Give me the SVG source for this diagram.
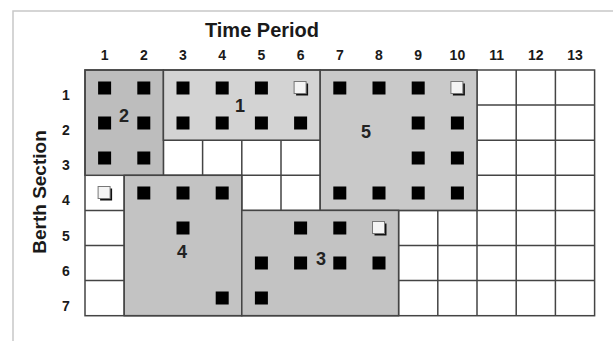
<svg xmlns="http://www.w3.org/2000/svg" width="613" height="341" viewBox="0 0 613 341">
<style>
text{font-family:"Liberation Sans",Arial,sans-serif;font-weight:bold;fill:#1a1a1a;text-anchor:middle}
.hd{font-size:14px}
.rl{font-size:14px}
.tl{font-size:20px}
.lb{font-size:18px;fill:#222}
.g{stroke:#444;stroke-width:1.5;fill:none}
.reg{stroke:#444;stroke-width:1.5}
.frame{stroke:#c8c8c8;stroke-width:1.5;fill:none}
</style>
<defs>
<g id="hol">
<rect x="-4.5" y="-4.5" width="12" height="12" fill="#111"/>
<rect x="-6.5" y="-6.5" width="12" height="12" fill="#f4f4f4" stroke="#777" stroke-width="1"/>
</g>
<rect id="sq" x="-6.5" y="-6.5" width="13" height="13" fill="#000"/>
</defs>
<rect width="613" height="341" fill="#fff"/>
<path class="frame" d="M13,341V11H613"/>
<text class="tl" x="262" y="37">Time Period</text>
<text class="tl" transform="translate(46,192) rotate(-90)" style="font-size:19px">Berth Section</text>
<g id="col-labels">
<text class="hd" x="104.6" y="60">1</text>
<text class="hd" x="143.8" y="60">2</text>
<text class="hd" x="183" y="60">3</text>
<text class="hd" x="222.2" y="60">4</text>
<text class="hd" x="261.4" y="60">5</text>
<text class="hd" x="300.6" y="60">6</text>
<text class="hd" x="339.8" y="60">7</text>
<text class="hd" x="379" y="60">8</text>
<text class="hd" x="418.2" y="60">9</text>
<text class="hd" x="457.4" y="60">10</text>
<text class="hd" x="496.6" y="60">11</text>
<text class="hd" x="535.8" y="60">12</text>
<text class="hd" x="575" y="60">13</text>
</g>
<g id="row-labels">
<text class="rl" x="66" y="100">1</text>
<text class="rl" x="66" y="135">2</text>
<text class="rl" x="66" y="170">3</text>
<text class="rl" x="66" y="205">4</text>
<text class="rl" x="66" y="240.5">5</text>
<text class="rl" x="66" y="275.5">6</text>
<text class="rl" x="66" y="310.5">7</text>
</g>
<g id="grid">
<rect x="85" y="70" width="509.6" height="245.7" fill="#fff"/>
<path class="g" d="M124.2,70V315.7M163.4,70V315.7M202.6,70V315.7M241.8,70V315.7M281,70V315.7M320.2,70V315.7M359.4,70V315.7M398.6,70V315.7M437.8,70V315.7M477,70V315.7M516.2,70V315.7M555.4,70V315.7M85,105.1H594.6M85,140.2H594.6M85,175.3H594.6M85,210.4H594.6M85,245.5H594.6M85,280.6H594.6"/>
</g>
<g id="region-2"><rect class="reg" x="85" y="70" width="78.4" height="105.3" fill="#bdbdbd"/><text class="lb" x="124" y="122">2</text></g>
<g id="region-1"><rect class="reg" x="163.4" y="70" width="156.8" height="70.2" fill="#d3d3d3"/><text class="lb" x="240" y="112">1</text></g>
<g id="region-5"><rect class="reg" x="320.2" y="70" width="156.8" height="140.4" fill="#c9c9c9"/><text class="lb" x="366" y="138">5</text></g>
<g id="region-4"><rect class="reg" x="124.2" y="175.3" width="117.6" height="140.4" fill="#c3c3c3"/><text class="lb" x="182" y="258">4</text></g>
<g id="region-3"><rect class="reg" x="241.8" y="210.4" width="156.8" height="105.3" fill="#c3c3c3"/><text class="lb" x="321" y="265">3</text></g>
<rect class="g" x="85" y="70" width="509.6" height="245.7"/>
<g id="marks">
<use href="#sq" x="104.6" y="88"/><use href="#sq" x="143.8" y="88"/><use href="#sq" x="183" y="88"/><use href="#sq" x="222.2" y="88"/><use href="#sq" x="261.4" y="88"/><use href="#hol" x="300.6" y="88"/><use href="#sq" x="339.8" y="88"/><use href="#sq" x="379" y="88"/><use href="#sq" x="418.2" y="88"/><use href="#hol" x="457.4" y="88"/>
<use href="#sq" x="104.6" y="123"/><use href="#sq" x="143.8" y="123"/><use href="#sq" x="183" y="123"/><use href="#sq" x="222.2" y="123"/><use href="#sq" x="261.4" y="123"/><use href="#sq" x="300.6" y="123"/><use href="#sq" x="418.2" y="123"/><use href="#sq" x="457.4" y="123"/>
<use href="#sq" x="104.6" y="158"/><use href="#sq" x="143.8" y="158"/><use href="#sq" x="418.2" y="158"/><use href="#sq" x="457.4" y="158"/>
<use href="#hol" x="104.6" y="193"/><use href="#sq" x="143.8" y="193"/><use href="#sq" x="183" y="193"/><use href="#sq" x="222.2" y="193"/><use href="#sq" x="339.8" y="193"/><use href="#sq" x="379" y="193"/><use href="#sq" x="418.2" y="193"/><use href="#sq" x="457.4" y="193"/>
<use href="#sq" x="183" y="228"/><use href="#sq" x="300.6" y="228"/><use href="#sq" x="339.8" y="228"/><use href="#hol" x="379" y="228"/>
<use href="#sq" x="261.4" y="263"/><use href="#sq" x="300.6" y="263"/><use href="#sq" x="339.8" y="263"/><use href="#sq" x="379" y="263"/>
<use href="#sq" x="222.2" y="298"/><use href="#sq" x="261.4" y="298"/>
</g>
</svg>
